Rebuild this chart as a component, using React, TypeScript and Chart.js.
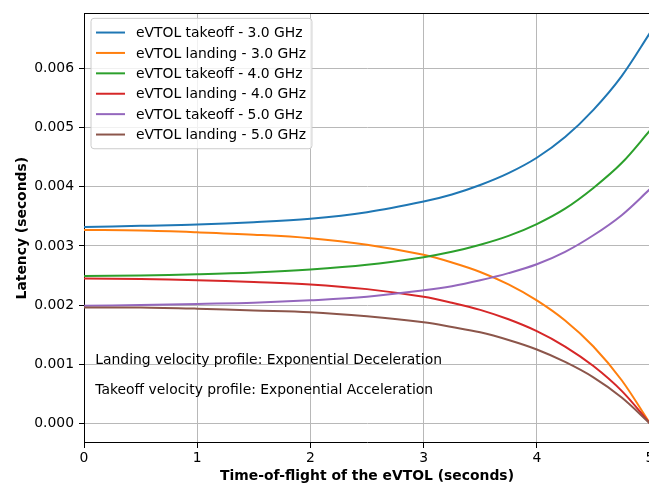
import { useEffect, useRef } from "react";
import { Chart, registerables } from "chart.js";

Chart.register(...registerables);

// Time of flight (s) at which the latencies were sampled
const TIME_S = [0, 0.5, 1, 1.5, 2, 2.5, 3, 3.25, 3.5, 3.75, 4, 4.25, 4.5, 4.75, 5];

// Latency (s) per flight phase and carrier frequency
const TAKEOFF_3GHZ = [0.00332, 0.00334, 0.00336, 0.0034, 0.00346, 0.00357, 0.00375, 0.00387, 0.00403, 0.00423, 0.00449, 0.00484, 0.0053, 0.00587, 0.0066];
const LANDING_3GHZ = [0.00327, 0.00326, 0.00323, 0.00319, 0.00313, 0.00302, 0.00285, 0.00272, 0.00256, 0.00235, 0.00208, 0.00174, 0.0013, 0.00073, 0];
const TAKEOFF_4GHZ = [0.00249, 0.0025, 0.00252, 0.00255, 0.0026, 0.00268, 0.00281, 0.0029, 0.00302, 0.00317, 0.00337, 0.00363, 0.00398, 0.0044, 0.00495];
const LANDING_4GHZ = [0.00245, 0.00244, 0.00242, 0.00239, 0.00235, 0.00227, 0.00214, 0.00204, 0.00192, 0.00176, 0.00156, 0.0013, 0.00097, 0.00055, 0];
const TAKEOFF_5GHZ = [0.00199, 0.002, 0.00202, 0.00204, 0.00208, 0.00214, 0.00225, 0.00232, 0.00242, 0.00254, 0.00269, 0.0029, 0.00318, 0.00352, 0.00396];
const LANDING_5GHZ = [0.00196, 0.00196, 0.00194, 0.00191, 0.00188, 0.00181, 0.00171, 0.00163, 0.00154, 0.00141, 0.00125, 0.00104, 0.00078, 0.00044, 0];

const SERIES_LABELS = [
  "eVTOL takeoff - 3.0 GHz",
  "eVTOL landing - 3.0 GHz",
  "eVTOL takeoff - 4.0 GHz",
  "eVTOL landing - 4.0 GHz",
  "eVTOL takeoff - 5.0 GHz",
  "eVTOL landing - 5.0 GHz",
];
const SERIES_VALUES = [TAKEOFF_3GHZ, LANDING_3GHZ, TAKEOFF_4GHZ, LANDING_4GHZ, TAKEOFF_5GHZ, LANDING_5GHZ];
const SERIES_COLORS = ["#1f77b4", "#ff7f0e", "#2ca02c", "#d62728", "#9467bd", "#8c564b"];

const X_TICKS = [0, 1, 2, 3, 4, 5];
const Y_TICKS = [0, 0.001, 0.002, 0.003, 0.004, 0.005, 0.006];
const X_MIN = 0;
const X_MAX = 5;
const Y_MIN = -0.00033;
const Y_MAX = 0.00693;

// Text notes placed in data coordinates
const NOTE_TEXTS = [
  "Landing velocity profile: Exponential Deceleration",
  "Takeoff velocity profile: Exponential Acceleration",
];
const NOTE_X = [0.1, 0.1];
const NOTE_Y = [0.001, 0.0005];

const FONT_FAMILY = '"DejaVu Sans", sans-serif';
const FONT_SIZE = 13.9;

const overlayPlugin = {
  id: "overlay",
  afterDraw(chart: any) {
    const { ctx, chartArea, scales } = chart;
    ctx.save();

    // top spine
    ctx.strokeStyle = "#000";
    ctx.lineWidth = 1;
    ctx.beginPath();
    ctx.moveTo(chartArea.left, Math.round(chartArea.top) + 0.5);
    ctx.lineTo(chartArea.right, Math.round(chartArea.top) + 0.5);
    ctx.stroke();

    // notes
    ctx.font = `${FONT_SIZE}px ${FONT_FAMILY}`;
    ctx.fillStyle = "#000";
    ctx.textAlign = "left";
    ctx.textBaseline = "alphabetic";
    NOTE_TEXTS.forEach((t, i) => {
      ctx.fillText(t, scales.x.getPixelForValue(NOTE_X[i]), scales.y.getPixelForValue(NOTE_Y[i]));
    });

    // legend box in the upper left
    const datasets = chart.data.datasets;
    const boxX = chartArea.left + 7;
    const boxY = chartArea.top + 5;
    const rowH = 20.4;
    const padTop = 3;
    const handleX0 = boxX + 5;
    const handleLen = 29;
    const textX = handleX0 + handleLen + 11;
    let maxW = 0;
    datasets.forEach((d: any) => {
      maxW = Math.max(maxW, ctx.measureText(d.label).width);
    });
    const boxW = textX + maxW + 6 - boxX;
    const boxH = padTop * 2 + rowH * datasets.length + 2;
    const r = 3;
    ctx.beginPath();
    ctx.moveTo(boxX + r, boxY);
    ctx.lineTo(boxX + boxW - r, boxY);
    ctx.arcTo(boxX + boxW, boxY, boxX + boxW, boxY + r, r);
    ctx.lineTo(boxX + boxW, boxY + boxH - r);
    ctx.arcTo(boxX + boxW, boxY + boxH, boxX + boxW - r, boxY + boxH, r);
    ctx.lineTo(boxX + r, boxY + boxH);
    ctx.arcTo(boxX, boxY + boxH, boxX, boxY + boxH - r, r);
    ctx.lineTo(boxX, boxY + r);
    ctx.arcTo(boxX, boxY, boxX + r, boxY, r);
    ctx.closePath();
    ctx.fillStyle = "rgba(255,255,255,0.8)";
    ctx.fill();
    ctx.strokeStyle = "#cccccc";
    ctx.lineWidth = 1;
    ctx.stroke();

    ctx.textBaseline = "middle";
    datasets.forEach((d: any, i: number) => {
      const cy = boxY + padTop + rowH / 2 + 1 + i * rowH;
      ctx.strokeStyle = d.borderColor;
      ctx.lineWidth = 2;
      ctx.beginPath();
      ctx.moveTo(handleX0, cy);
      ctx.lineTo(handleX0 + handleLen, cy);
      ctx.stroke();
      ctx.fillStyle = "#000";
      ctx.fillText(d.label, textX, cy + 1);
    });

    ctx.restore();
  },
};

export default function App() {
  const canvasRef = useRef<HTMLCanvasElement | null>(null);

  useEffect(() => {
    if (!canvasRef.current) return;
    Chart.defaults.font.family = FONT_FAMILY;

    const datasets = SERIES_VALUES.map((vals, i) => ({
      label: SERIES_LABELS[i],
      data: vals.map((v, j) => ({ x: TIME_S[j], y: v })),
      borderColor: SERIES_COLORS[i],
      backgroundColor: SERIES_COLORS[i],
      borderWidth: 2,
      pointRadius: 0,
      fill: false,
      tension: 0.35,
      order: SERIES_VALUES.length - i,
    }));

    const chart = new Chart(canvasRef.current, {
      type: "line",
      data: { datasets },
      options: {
        animation: false,
        responsive: false,
        devicePixelRatio: 1,
        layout: { padding: { top: 9, right: 20, bottom: 0, left: 0 } },
        plugins: {
          legend: { display: false },
          tooltip: { enabled: false },
        },
        scales: {
          x: {
            type: "linear",
            min: X_MIN,
            max: X_MAX,
            afterBuildTicks: (scale: any) => {
              scale.ticks = X_TICKS.map((value) => ({ value }));
            },
            afterFit: (scale: any) => {
              scale.height = 45;
            },
            ticks: {
              color: "#000",
              font: { size: FONT_SIZE },
              padding: 2,
              maxRotation: 0,
              callback: (v: any) => String(v),
            },
            grid: { color: "#b8b8b8", lineWidth: 1, tickColor: "#000", tickLength: 5 },
            border: { color: "#000", width: 1 },
            title: {
              display: true,
              text: "Time-of-flight of the eVTOL (seconds)",
              color: "#000",
              font: { size: FONT_SIZE, weight: "bold" },
              padding: { top: 0, bottom: 3 },
            },
          },
          y: {
            type: "linear",
            min: Y_MIN,
            max: Y_MAX,
            afterBuildTicks: (scale: any) => {
              scale.ticks = Y_TICKS.map((value) => ({ value }));
            },
            afterFit: (scale: any) => {
              scale.width = 84;
            },
            ticks: {
              color: "#000",
              font: { size: FONT_SIZE },
              padding: 5,
              callback: (v: any) => Number(v).toFixed(3),
            },
            grid: { color: "#b8b8b8", lineWidth: 1, tickColor: "#000", tickLength: 5 },
            border: { color: "#000", width: 1 },
            title: {
              display: true,
              text: "Latency (seconds)",
              color: "#000",
              font: { size: FONT_SIZE, weight: "bold" },
              padding: { top: 14, bottom: 0 },
            },
          },
        },
      },
      plugins: [overlayPlugin],
    });

    return () => chart.destroy();
  }, []);

  return (
    <div
      style={{
        position: "absolute",
        left: 0,
        top: 0,
        width: 649,
        height: 488,
        overflow: "hidden",
        background: "#fff",
      }}
    >
      <canvas ref={canvasRef} width={670} height={488} style={{ display: "block", width: 670, height: 488 }} />
    </div>
  );
}
